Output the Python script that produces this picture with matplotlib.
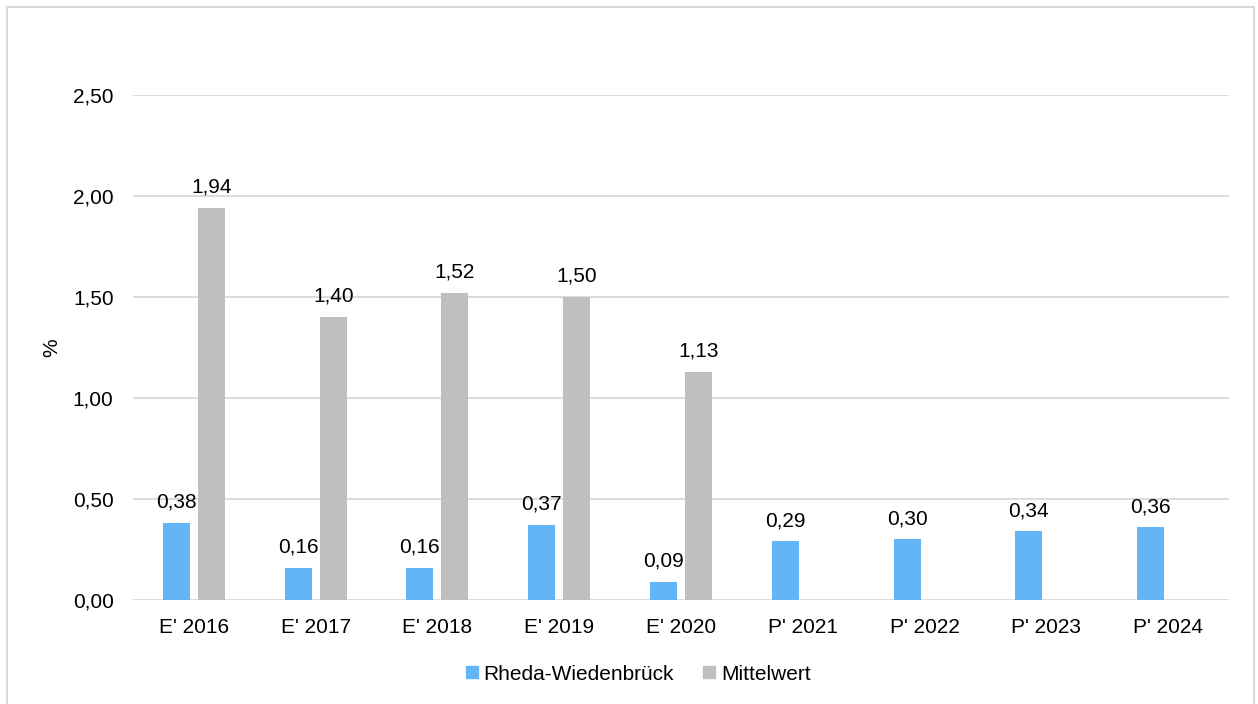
import matplotlib
matplotlib.use("Agg")
import matplotlib.pyplot as plt
import numpy as np
from matplotlib.patches import Rectangle
from matplotlib.lines import Line2D

categories = ["E' 2016", "E' 2017", "E' 2018", "E' 2019", "E' 2020",
              "P' 2021", "P' 2022", "P' 2023", "P' 2024"]
rheda = [0.38, 0.16, 0.16, 0.37, 0.09, 0.29, 0.30, 0.34, 0.36]
mittel = [1.94, 1.40, 1.52, 1.50, 1.13, None, None, None, None]
yticks = [0.0, 0.5, 1.0, 1.5, 2.0, 2.5]

BLUE = "#64B5F6"
GRAY = "#BFBFBF"
GRID = "#D9D9D9"
FS = 15

plt.rcParams['font.family'] = ['Liberation Sans', 'DejaVu Sans']

fig = plt.figure(figsize=(12.58, 7.04), dpi=100)
ax = fig.add_axes([133/1258, 1-600/704, (1229-133)/1258, (600-95)/704])

x = np.arange(len(categories))
w = 0.222
off = 0.144
ax.bar(x - off, rheda, width=w, color=BLUE, zorder=3)
mx = [xi + off for xi, v in zip(x, mittel) if v is not None]
mv = [v for v in mittel if v is not None]
ax.bar(mx, mv, width=w, color=GRAY, zorder=3)

def fmt(v):
    return f"{v:.2f}".replace(".", ",")

for xi, v in zip(x, rheda):
    ax.annotate(fmt(v), (xi - off, v), xytext=(0, 11), textcoords="offset points",
                ha="center", va="baseline", fontsize=FS, color="#000000")
for xi, v in zip(mx, mv):
    ax.annotate(fmt(v), (xi, v), xytext=(0, 11), textcoords="offset points",
                ha="center", va="baseline", fontsize=FS, color="#000000")

ax.set_xlim(-0.5, len(categories) - 0.5)
ax.set_ylim(0, 2.5)
ax.set_yticks(yticks)
ax.set_yticklabels([fmt(t) for t in yticks], fontsize=FS)
ax.set_xticks(x)
ax.set_xticklabels(categories, fontsize=FS)
ax.tick_params(axis='y', length=0, pad=14)
ax.tick_params(axis='x', length=0, pad=13)
ax.yaxis.grid(True, color=GRID, linewidth=1.3, zorder=0)
ax.set_axisbelow(True)
for s in ax.spines.values():
    s.set_visible(False)
ax.set_ylabel("%", fontsize=FS, labelpad=8)

fig.patches.append(Rectangle((7/1258, -0.05), (1254-7)/1258, 1.05 - 7/704,
                             transform=fig.transFigure, fill=False,
                             edgecolor=GRID, linewidth=1.5))

handles = [Line2D([], [], marker='s', linestyle='none', markersize=8,
                  markerfacecolor=BLUE, markeredgecolor=BLUE),
           Line2D([], [], marker='s', linestyle='none', markersize=8,
                  markerfacecolor=GRAY, markeredgecolor=GRAY)]
fig.legend(handles, ["Rheda-Wiedenbrück", "Mittelwert"], loc='center',
           bbox_to_anchor=(636/1258, 1-674/704), ncol=2, frameon=False,
           fontsize=FS, handletextpad=0.05, columnspacing=1.2, handlelength=1.0)

fig.savefig("out.png", dpi=100)
